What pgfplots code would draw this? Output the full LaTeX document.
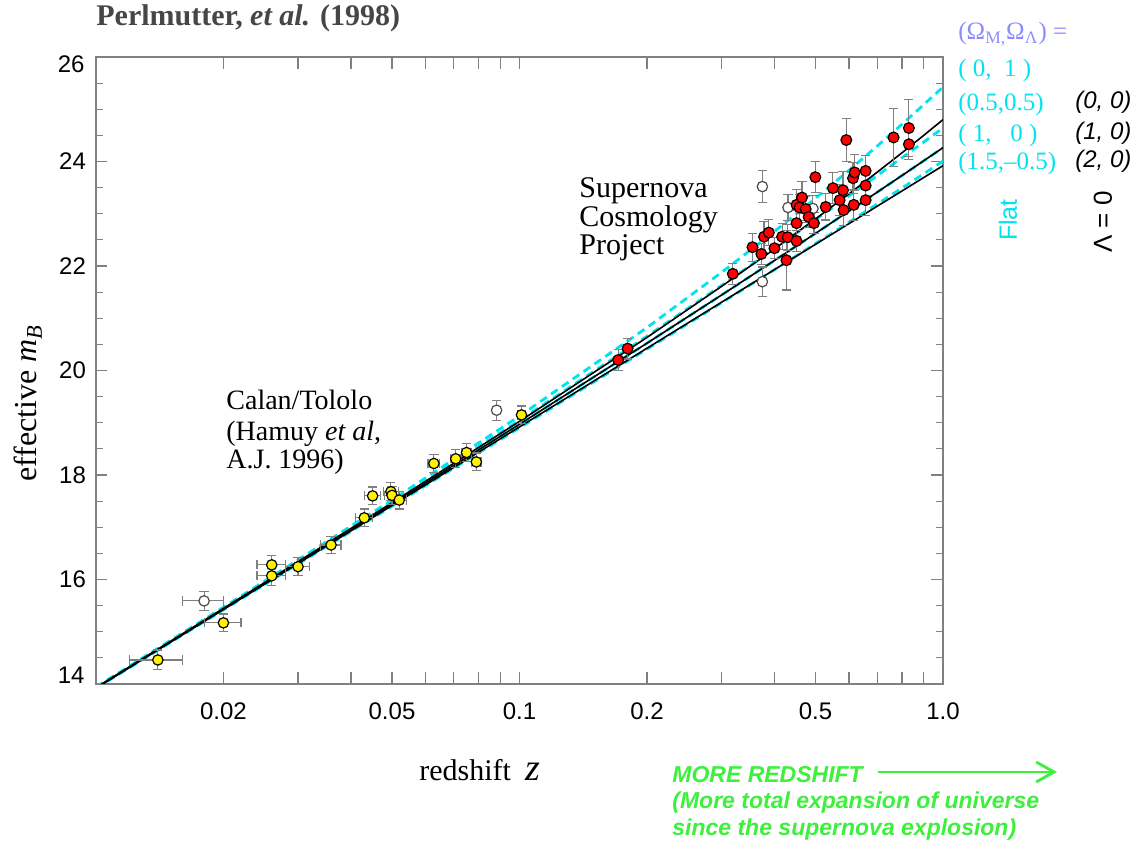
\documentclass[border=0pt]{standalone}
\usepackage{fontspec}
\setmainfont{Liberation Serif}
\newfontfamily\helv{Liberation Sans}
\usepackage{pgfplots}
\pgfplotsset{compat=1.18}
\usepackage{pgfplotstable}
\usetikzlibrary{arrows.meta}
\definecolor{cyanL}{RGB}{0,228,240}
\definecolor{omcol}{RGB}{140,140,255}
\definecolor{grn}{RGB}{60,240,60}
\definecolor{axgray}{RGB}{128,128,128}
\definecolor{titlegray}{RGB}{70,70,70}

% model curves (Omega_M, Omega_Lambda)
\pgfplotstableread{
z    L00    L10    L20    F01    F55    F15
0.01 13.931 13.925 13.920 13.942 13.934 13.917
0.02 15.447 15.436 15.425 15.468 15.452 15.420
0.05 17.469 17.441 17.415 17.521 17.480 17.402
0.1  19.026 18.971 18.920 19.127 19.045 18.904
0.2  20.632 20.522 20.425 20.821 20.656 20.408
0.3  21.610 21.444 21.306 21.876 21.628 21.295
0.4  22.326 22.105 21.930 22.661 22.332 21.930
0.5  22.900 22.624 22.415 23.295 22.886 22.428
0.6  23.381 23.051 22.811 23.832 23.343 22.838
0.7  23.798 23.415 23.146 24.298 23.733 23.188
0.8  24.166 23.731 23.435 24.711 24.071 23.491
0.9  24.498 24.012 23.691 25.085 24.371 23.762
1.0  24.801 24.264 23.920 25.425 24.640 24.006
}\models

% Calan/Tololo
\pgfplotstableread{
z      m      dz    dm
0.0140 14.46  0.002 0.19
0.0200 15.17  0.002 0.17
0.0260 16.28  0.002 0.18
0.0260 16.07  0.002 0.18
0.0300 16.245 0.002 0.17
0.0359 16.66  0.002 0.17
0.0430 17.18  0.002 0.17
0.0450 17.60  0.002 0.17
0.0497 17.68  0.002 0.17
0.0500 17.61  0.002 0.17
0.0520 17.52  0.002 0.17
0.0628 18.22  0.002 0.17
0.0707 18.31  0.002 0.17
0.0750 18.43  0.002 0.17
0.0791 18.25  0.002 0.17
0.1011 19.15  0.002 0.17
}\yellowdata

% excluded (open)
\pgfplotstableread{
z      m      dz    dm
0.0180 15.59  0.002 0.18
0.0883 19.24  0.0   0.19
0.3746 23.52  0.0   0.30
0.3746 21.70  0.0   0.28
0.4305 23.12  0.0   0.25
0.4930 23.10  0.0   0.25
}\opendata

% Supernova Cosmology Project
\pgfplotstableread{
z      m     dm
0.171  20.20 0.20
0.180  20.42 0.20
0.319  21.85 0.20
0.355  22.36 0.27
0.3725 22.23 0.20
0.378  22.56 0.30
0.388  22.64 0.25
0.400  22.34 0.20
0.417  22.56 0.25
0.430  22.55 0.25
0.427  22.11 0.57
0.451  22.48 0.20
0.451  22.82 0.25
0.451  23.17 0.30
0.4645 23.31 0.30
0.4586 23.12 0.25
0.474  23.09 0.25
0.4817 22.94 0.20
0.4958 22.82 0.20
0.4995 23.70 0.30
0.5285 23.13 0.25
0.5497 23.49 0.30
0.5702 23.26 0.30
0.5806 23.45 0.35
0.5827 23.07 0.30
0.5912 24.41 0.41
0.6131 23.68 0.30
0.6187 23.79 0.35
0.6157 23.17 0.30
0.6567 23.82 0.30
0.6567 23.54 0.30
0.6567 23.26 0.30
0.7646 24.46 0.56
0.8308 24.64 0.55
0.8308 24.33 0.30
}\reddata

\tikzset{px/.style={x=0.5pt,y=-0.5pt,shift={(-48pt,342pt)}}}

\begin{document}
\begin{tikzpicture}
\useasboundingbox (-48pt,-83pt) rectangle (522.5pt,342pt);
\begin{axis}[
  at={(0pt,0pt)}, anchor=south west,
  scale only axis, width=423.5pt, height=313.5pt,
  xmode=log, xmin=0.01, xmax=1, ymin=14, ymax=26,
  axis line style={axgray, line width=0.7pt},
  tick style={axgray, line width=0.6pt},
  tick align=inside,
  major tick length=5.8pt, minor tick length=3.6pt,
  xtick={0.02,0.03,0.04,0.05,0.06,0.07,0.08,0.09,0.1,0.2,0.3,0.4,0.5,0.6,0.7,0.8,0.9,1},
  xticklabels={0.02,,,0.05,,,,,0.1,0.2,,,0.5,,,,,1.0},
  minor xtick={},
  ytick={14,16,18,20,22,24,26},
  yticklabels={,16,18,20,22,24,},
  minor y tick num=3,
  ticklabel style={font=\helv\fontsize{12}{14}\selectfont, text=black},
  xticklabel style={yshift=-6pt},
  yticklabel style={xshift=-1.5pt},
  clip=true,
]
% Flat models (cyan dashed)
\addplot[draw=cyanL, line width=1.4pt, dash pattern=on 4pt off 2.6pt] table[x=z,y=F01]{\models};
\addplot[draw=cyanL, line width=1.4pt, dash pattern=on 4pt off 2.6pt] table[x=z,y=F55]{\models};
\addplot[draw=cyanL, line width=1.4pt, dash pattern=on 4pt off 2.6pt] table[x=z,y=L10]{\models};
\addplot[draw=cyanL, line width=1.4pt, dash pattern=on 4pt off 2.6pt] table[x=z,y=F15]{\models};
% Lambda = 0 models (black)
\addplot[draw=black, line width=0.8pt] table[x=z,y=L00]{\models};
\addplot[draw=black, line width=0.8pt] table[x=z,y=L10]{\models};
\addplot[draw=black, line width=0.8pt] table[x=z,y=L20]{\models};
% open points
\addplot[only marks, mark=*, mark size=2.6pt,
  mark options={fill=white, draw=black!70, line width=0.6pt},
  error bars/.cd, x dir=both, x explicit, y dir=both, y explicit,
  error bar style={axgray, line width=0.55pt},
  error mark options={rotate=90, axgray, mark size=2.3pt, line width=0.55pt}]
  table[x=z, y=m, x error=dz, y error=dm]{\opendata};
% Calan/Tololo
\addplot[only marks, mark=*, mark size=2.6pt,
  mark options={fill=yellow, draw=black, line width=0.6pt},
  error bars/.cd, x dir=both, x explicit, y dir=both, y explicit,
  error bar style={axgray, line width=0.55pt},
  error mark options={rotate=90, axgray, mark size=2.3pt, line width=0.55pt}]
  table[x=z, y=m, x error=dz, y error=dm]{\yellowdata};
% SCP
\addplot[only marks, mark=*, mark size=2.7pt,
  mark options={fill=red, draw=black, line width=0.6pt},
  error bars/.cd, y dir=both, y explicit,
  error bar style={axgray, line width=0.55pt},
  error mark options={rotate=90, axgray, mark size=2.3pt, line width=0.55pt}]
  table[x=z, y=m, y error=dm]{\reddata};
\end{axis}

\begin{scope}[px]
% edge y tick labels
\node[anchor=east, inner sep=0pt, font=\helv\fontsize{12}{14}\selectfont] at (85,64.5) {26};
\node[anchor=east, inner sep=0pt, font=\helv\fontsize{12}{14}\selectfont] at (85,675) {14};
% title
\node[anchor=west, inner sep=0pt, text=titlegray] at (96,18)
  {\fontsize{15}{17}\selectfont\bfseries Perlmutter, \textit{et al.} (1998)};
% axis labels
\node[rotate=90, inner sep=0pt] at (28,403)
  {\fontsize{16}{18}\selectfont effective \textit{m}\textsubscript{\textit{B}}};
\node[inner sep=0pt] at (480,770)
  {\fontsize{15}{18}\selectfont redshift\ \ {\fontsize{19}{20}\selectfont\textit{z}}};
% group labels
\begin{scope}[font=\fontsize{15}{17}\selectfont]
\node[anchor=base west, inner sep=0pt] at (579,198) {Supernova};
\node[anchor=base west, inner sep=0pt] at (579,227) {Cosmology};
\node[anchor=base west, inner sep=0pt] at (579,255) {Project};
\end{scope}
\begin{scope}[font=\fontsize{14}{16}\selectfont]
\node[anchor=base west, inner sep=0pt] at (226,410) {Calan/Tololo};
\node[anchor=base west, inner sep=0pt] at (226,441) {(Hamuy \textit{et al},};
\node[anchor=base west, inner sep=0pt] at (226,469) {A.J. 1996)};
\end{scope}
% model legend
\begin{scope}[font=\fontsize{12.5}{14}\selectfont]
\node[anchor=base west, inner sep=0pt, text=omcol] at (958,40) {(Ω\textsubscript{M,}Ω\textsubscript{Λ}) =};
\node[anchor=base west, inner sep=0pt, text=cyanL] at (958,77) {( 0,\ \ 1 )};
\node[anchor=base west, inner sep=0pt, text=cyanL] at (958,111) {(0.5,0.5)};
\node[anchor=base west, inner sep=0pt, text=cyanL] at (958,142) {( 1,\ \ \ 0 )};
\node[anchor=base west, inner sep=0pt, text=cyanL] at (958,170) {(1.5,–0.5)};
\end{scope}
\begin{scope}[font=\helv\itshape\fontsize{12}{14}\selectfont]
\node[anchor=base west, inner sep=0pt] at (1075,109) {(0, 0)};
\node[anchor=base west, inner sep=0pt] at (1075,140) {(1, 0)};
\node[anchor=base west, inner sep=0pt] at (1075,168) {(2, 0)};
\end{scope}
\node[rotate=90, inner sep=0pt, text=cyanL, font=\helv\fontsize{12.5}{14}\selectfont] at (1008,220) {Flat};
\node[rotate=90, inner sep=0pt, font=\helv\fontsize{13}{14}\selectfont] at (1103,222) {Λ = 0};
% green annotation
\begin{scope}[font=\helv\bfseries\itshape\fontsize{11.5}{13}\selectfont, text=grn]
\node[anchor=west, inner sep=0pt] at (672,775) {MORE REDSHIFT};
\node[anchor=west, inner sep=0pt] at (672,803) {(More total expansion of universe};
\node[anchor=west, inner sep=0pt] at (672,830) {since the supernova explosion)};
\end{scope}
\draw[grn, line width=1.4pt, -{Straight Barb[length=9pt, width=10pt]}] (878,772) -- (1057,772);
\end{scope}
\end{tikzpicture}
\end{document}
